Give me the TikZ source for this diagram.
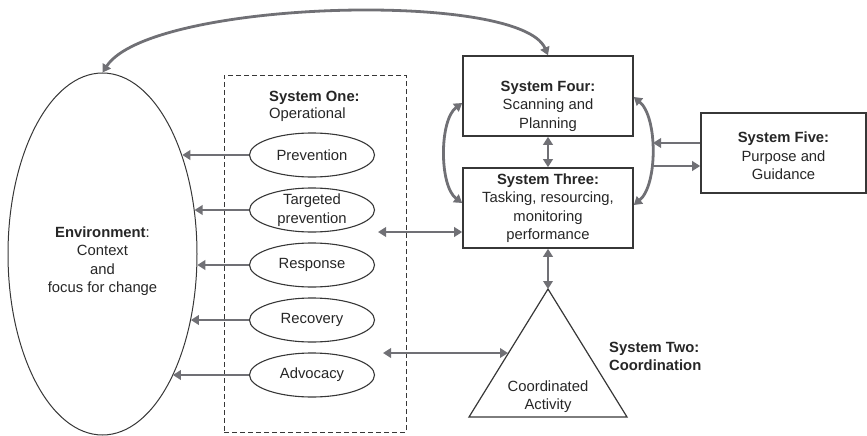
\documentclass[tikz,border=0pt]{standalone}
\usepackage{fontspec}
\setmainfont{Liberation Sans}
\usetikzlibrary{arrows.meta,shapes.geometric}
\definecolor{arr}{RGB}{112,112,117}
\definecolor{ln}{RGB}{55,55,55}
\definecolor{tx}{RGB}{38,38,38}
\begin{document}
\begin{tikzpicture}[x=1pt,y=-1pt,
  font=\fontsize{14.8}{18.5}\selectfont, text=tx,
  arrow/.style={draw=arr, line width=2.8pt, -{Triangle[length=8pt,width=9.5pt]}},
  darrow/.style={draw=arr, line width=2.8pt, {Triangle[length=8pt,width=9.5pt]}-{Triangle[length=8pt,width=9.5pt]}},
  box/.style={draw=ln, line width=1.6pt, minimum width=170pt, minimum height=80pt, inner sep=0pt},
  oval/.style={ellipse, draw=ln, line width=1.1pt, minimum width=125pt, minimum height=44pt, inner sep=0pt},
  txt/.style={align=center, inner sep=0pt}]
\useasboundingbox (0,0) rectangle (867,436);

% environment
\node[ellipse, draw=ln, line width=1pt, minimum width=189pt, minimum height=362pt, inner sep=0pt] (env) at (102.5,254) {};
\node[txt] (envt) at (102.5,261) {\textbf{Environment}:\\Context\\and\\focus for change};

% system one
\node[draw=ln, dashed, dash pattern=on 5pt off 3pt, line width=0.85pt, minimum width=182pt, minimum height=357pt, inner sep=0pt] (s1box) at (315,253.5) {};
\node[align=left, inner sep=0pt, anchor=west, font=\fontsize{14.8}{17}\selectfont] (s1t) at (269,106) {\textbf{System One:}\\Operational};

\node[oval] (o1) at (312,155) {};
\node[txt] (o1t) at (o1) {Prevention};
\node[oval] (o2) at (312,210) {};
\node[txt, font=\fontsize{14.8}{19.5}\selectfont] (o2t) at (o2) {Targeted\\prevention};
\node[oval] (o3) at (312,265) {};
\node[txt] (o3t) at (o3) {Response};
\node[oval] (o4) at (312,320) {};
\node[txt] (o4t) at (o4) {Recovery};
\node[oval] (o5) at (312,375) {};
\node[txt] (o5t) at (o5) {Advocacy};

\draw[arrow] (o1.west) -- (o1.west -| env.51);
\draw[arrow] (o2.west) -- (o2.west -| env.26);
\draw[arrow] (o3.west) -- (o3.west -| env.-7);
\draw[arrow] (o4.west) -- (o4.west -| env.-37);
\draw[arrow] (o5.west) -- (o5.west -| env.-60);

% systems three, four, five
\node[box] (s4) at (548,96) {};
\node[txt] (s4t) at (548,106) {\textbf{System Four:}\\Scanning and\\Planning};
\node[box] (s3) at (548,208) {};
\node[txt] (s3t) at (548,208) {\textbf{System Three:}\\Tasking, resourcing,\\monitoring\\performance};
\node[box, minimum width=165pt] (s5) at (783.5,153) {};
\node[txt] (s5t) at (783.5,156) {\textbf{System Five:}\\Purpose and\\Guidance};

% system two
\coordinate (apex) at (548,289);
\coordinate (bl) at (469,417);
\coordinate (br) at (627,417);
\draw[ln, line width=1.2pt, line join=miter] (apex) -- (br) -- (bl) -- cycle;
\node[txt] (s2t) at (548,396.5) {Coordinated\\Activity};
\node[align=left, inner sep=0pt, anchor=west, font=\fontsize{14.8}{18.5}\bfseries] (s2l) at (609,356.5) {System Two:\\Coordination};
\coordinate (trileft) at (508,353);

% connectors
\coordinate (s1r) at (378,232);
\coordinate (advr) at (383,353);
\coordinate (r1) at (653,143);
\coordinate (r2) at (653,166);

\draw[darrow] (s4.south) -- (s3.north);
\draw[darrow] (s3.south) -- (apex);
\draw[darrow] (s1r) -- (s1r -| s3.west);
\draw[darrow] (advr) -- (trileft);
\draw[darrow] ([yshift=-7pt]s4.west) .. controls +(-23,17) and +(-23,-17) .. ([yshift=5pt]s3.west);
\draw[darrow] ([yshift=-1pt]s4.east) .. controls +(24,20) and +(24,-20) .. ([yshift=3pt]s3.east);
\draw[arrow] (r1 -| s5.west) -- (r1);
\draw[arrow] (r2) -- (r2 -| s5.west);
\draw[darrow] (env.north) .. controls (150,0) and (520,-10) .. (s4.north);
\end{tikzpicture}
\end{document}
